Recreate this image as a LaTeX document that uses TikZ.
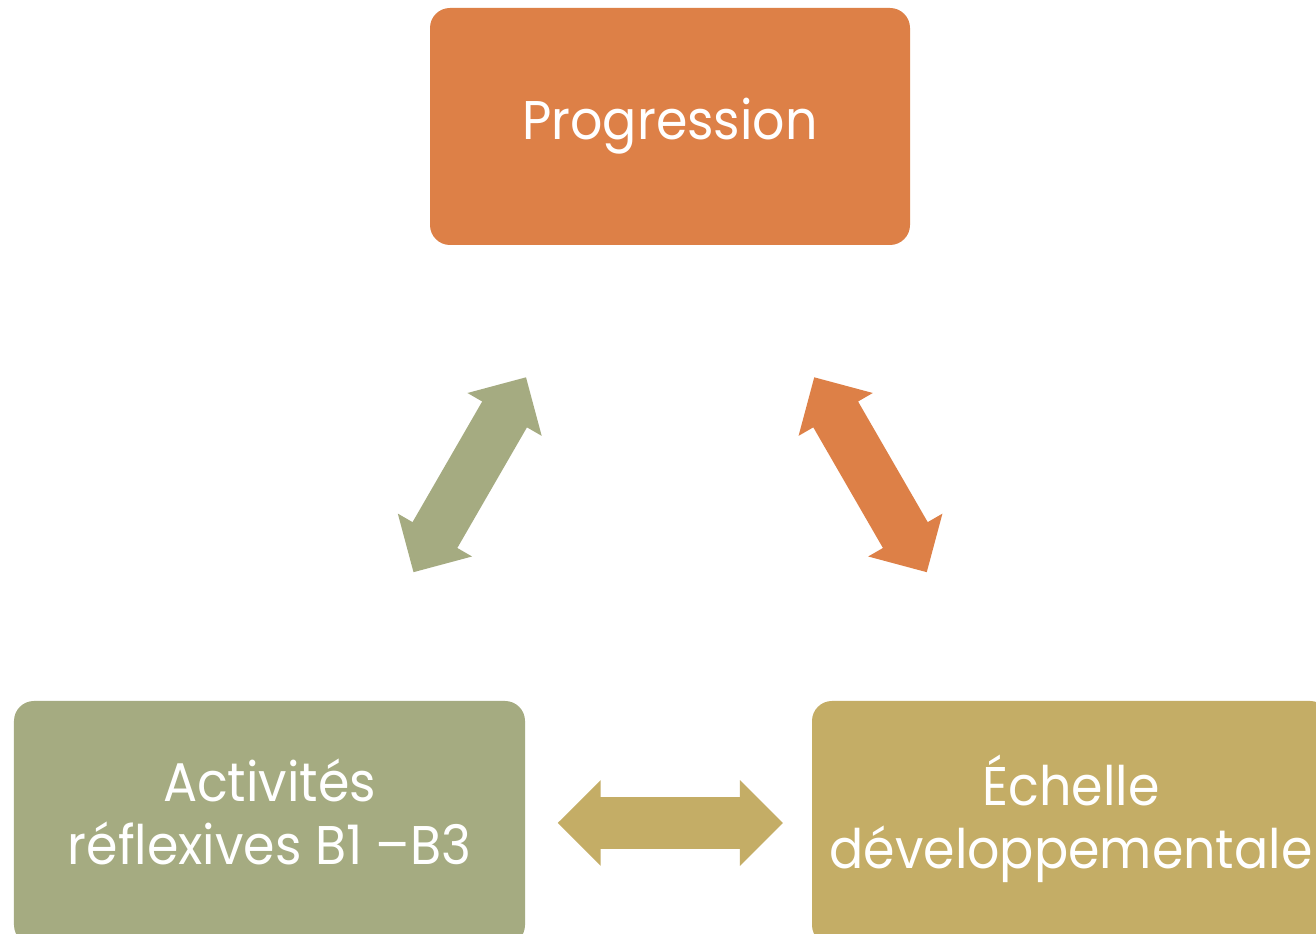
\documentclass[tikz,border=0pt]{standalone}
\usepackage{fontspec}
\setmainfont{Poppins}[FakeStretch=0.93]
\usetikzlibrary{calc}
\usetikzlibrary{shapes.arrows}
\definecolor{myorange}{RGB}{221,128,71}
\definecolor{mygreen}{RGB}{165,171,129}
\definecolor{mytan}{RGB}{196,173,102}
\tikzstyle{box}=[rounded corners=0.4cm,minimum height=4.88cm,inner sep=0pt,align=center,text=white,font=\fontsize{31}{36}\selectfont]
\tikzstyle{link}=[double arrow,double arrow tip angle=90,double arrow head extend=0.34cm,minimum height=4.5cm,minimum width=0pt,inner xsep=0pt,inner ysep=0.51cm]

\begin{document}
\begin{tikzpicture}
  
  \def\W{26.32}
  \def\H{18.68}
  
  % PAGE
  \clip (0,0) rectangle (\W,\H);
  \fill[white] (0,0) rectangle (\W,\H);
  
  % BOXES
  \node[box,fill=myorange,minimum width=9.6cm,minimum height=4.74cm] (prog) at (13.4,16.15) {Progression};
  \node[box,fill=mygreen,minimum width=10.22cm,text depth=0.45cm] (act) at (5.39,2.22) {Activités\\réflexives B1 –B3};
  \node[box,fill=mytan,minimum width=10.36cm,text depth=0.45cm] (ech) at (21.42,2.22) {Échelle\\développementale};
  
  % ARROWS
  \node[link,fill=mygreen,rotate=60]   (pa) at ($(prog)!0.5!(act)$) {};
  \node[link,fill=myorange,rotate=-60] (pe) at ($(prog)!0.5!(ech)$) {};
  \node[link,fill=mytan]               (ae) at ($(act)!0.5!(ech)$)  {};
  
\end{tikzpicture}
\end{document}
